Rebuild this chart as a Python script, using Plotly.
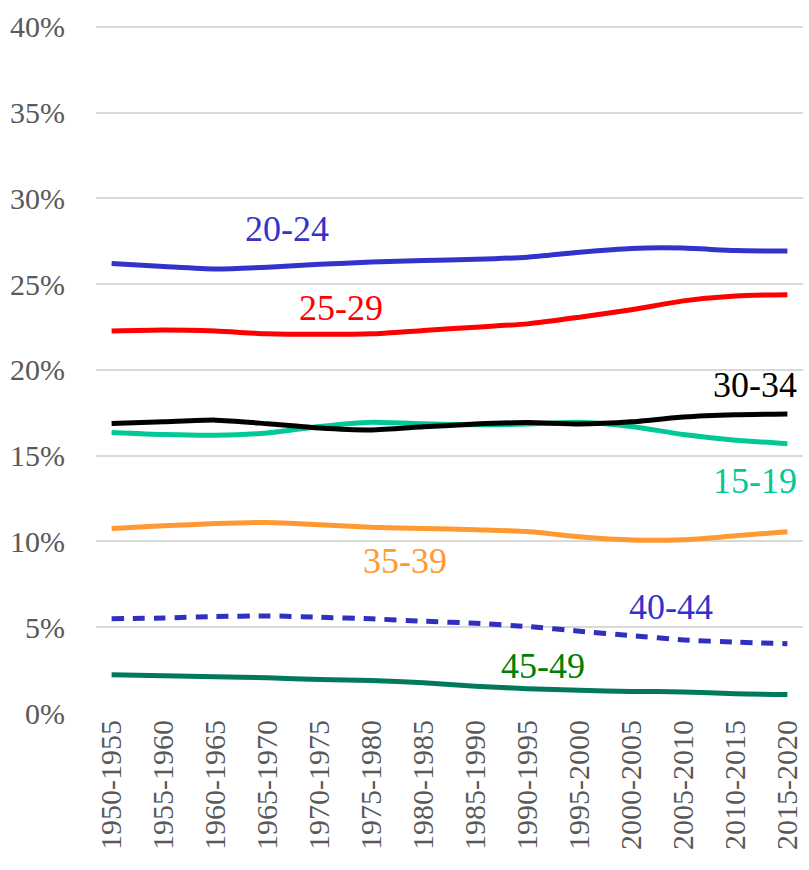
import plotly.graph_objects as go

# Share of births by mother's age group, 1950-2020 (percent)
periods = ['1950-1955', '1955-1960', '1960-1965', '1965-1970', '1970-1975',
           '1975-1980', '1980-1985', '1985-1990', '1990-1995', '1995-2000',
           '2000-2005', '2005-2010', '2010-2015', '2015-2020']

age_15_19 = [16.35, 16.23, 16.19, 16.32, 16.7, 16.95, 16.86, 16.8, 16.84, 16.95, 16.7, 16.23, 15.9, 15.7]
age_20_24 = [26.2, 26.03, 25.88, 25.98, 26.15, 26.28, 26.38, 26.44, 26.57, 26.86, 27.08, 27.1, 26.95, 26.93]
age_25_29 = [22.26, 22.32, 22.26, 22.1, 22.07, 22.1, 22.3, 22.49, 22.68, 23.07, 23.5, 24.02, 24.31, 24.38]
age_30_34 = [16.88, 16.97, 17.07, 16.86, 16.61, 16.5, 16.68, 16.84, 16.93, 16.84, 16.97, 17.25, 17.38, 17.43]
age_35_39 = [10.76, 10.91, 11.04, 11.1, 10.97, 10.82, 10.76, 10.68, 10.58, 10.27, 10.08, 10.1, 10.33, 10.57]
age_40_44 = [5.49, 5.54, 5.62, 5.66, 5.58, 5.49, 5.35, 5.23, 5.04, 4.77, 4.51, 4.26, 4.13, 4.04]
age_45_49 = [2.23, 2.17, 2.12, 2.05, 1.95, 1.9, 1.76, 1.56, 1.42, 1.32, 1.26, 1.23, 1.12, 1.08]

y_ticks = [0, 5, 10, 15, 20, 25, 30, 35, 40]
y_tick_labels = ['0%', '5%', '10%', '15%', '20%', '25%', '30%', '35%', '40%']

FONT = 'Liberation Serif, Times New Roman, serif'

series = [
    # name, values, line colour, dash, label colour, label x (category index), label y
    ('15-19', age_15_19, '#00C896', 'solid', '#00C896', 12.37, 13.5),
    ('20-24', age_20_24, '#3333CC', 'solid', '#3333CC', 3.37, 28.2),
    ('25-29', age_25_29, '#FF0000', 'solid', '#FF0000', 4.42, 23.6),
    ('30-34', age_30_34, '#000000', 'solid', '#000000', 12.37, 19.1),
    ('35-39', age_35_39, '#FF9933', 'solid', '#FF9933', 5.65, 8.85),
    ('40-44', age_40_44, '#3030C0', '12px,9px', '#3333CC', 10.77, 6.15),
    ('45-49', age_45_49, '#007A5A', 'solid', '#008000', 8.29, 2.75),
]

fig = go.Figure()

for name, vals, color, dash, label_color, lx, ly in series:
    fig.add_trace(go.Scatter(
        x=periods,
        y=vals,
        mode='lines',
        name=name,
        line=dict(color=color, width=5, dash=dash, shape='spline', smoothing=0.6),
        showlegend=False,
    ))
    fig.add_annotation(
        x=lx, y=ly, xref='x', yref='y',
        text=name, showarrow=False,
        font=dict(family=FONT, size=36, color=label_color),
    )

fig.update_layout(
    width=809,
    height=870,
    margin=dict(l=96, r=6, t=25, b=157),
    paper_bgcolor='white',
    plot_bgcolor='white',
    font=dict(family=FONT, size=30, color='#595959'),
    xaxis=dict(
        type='category',
        range=[-0.3, 13.3],
        tickangle=-90,
        showgrid=False,
        showline=False,
        zeroline=False,
        ticks='',
        tickfont=dict(family=FONT, size=30, color='#595959'),
    ),
    yaxis=dict(
        range=[0, 40.1],
        tickmode='array',
        tickvals=y_ticks,
        ticktext=y_tick_labels,
        showgrid=True,
        gridcolor='#D9D9D9',
        gridwidth=1.5,
        zeroline=False,
        showline=False,
        ticks='',
        ticklabelstandoff=30,
        tickfont=dict(family=FONT, size=30, color='#595959'),
    ),
)

# drop the page's default body margin so the figure sits at the top-left corner
fig.write_html("out.html", config={'displayModeBar': False},
               post_script="document.body.style.margin='0';")
